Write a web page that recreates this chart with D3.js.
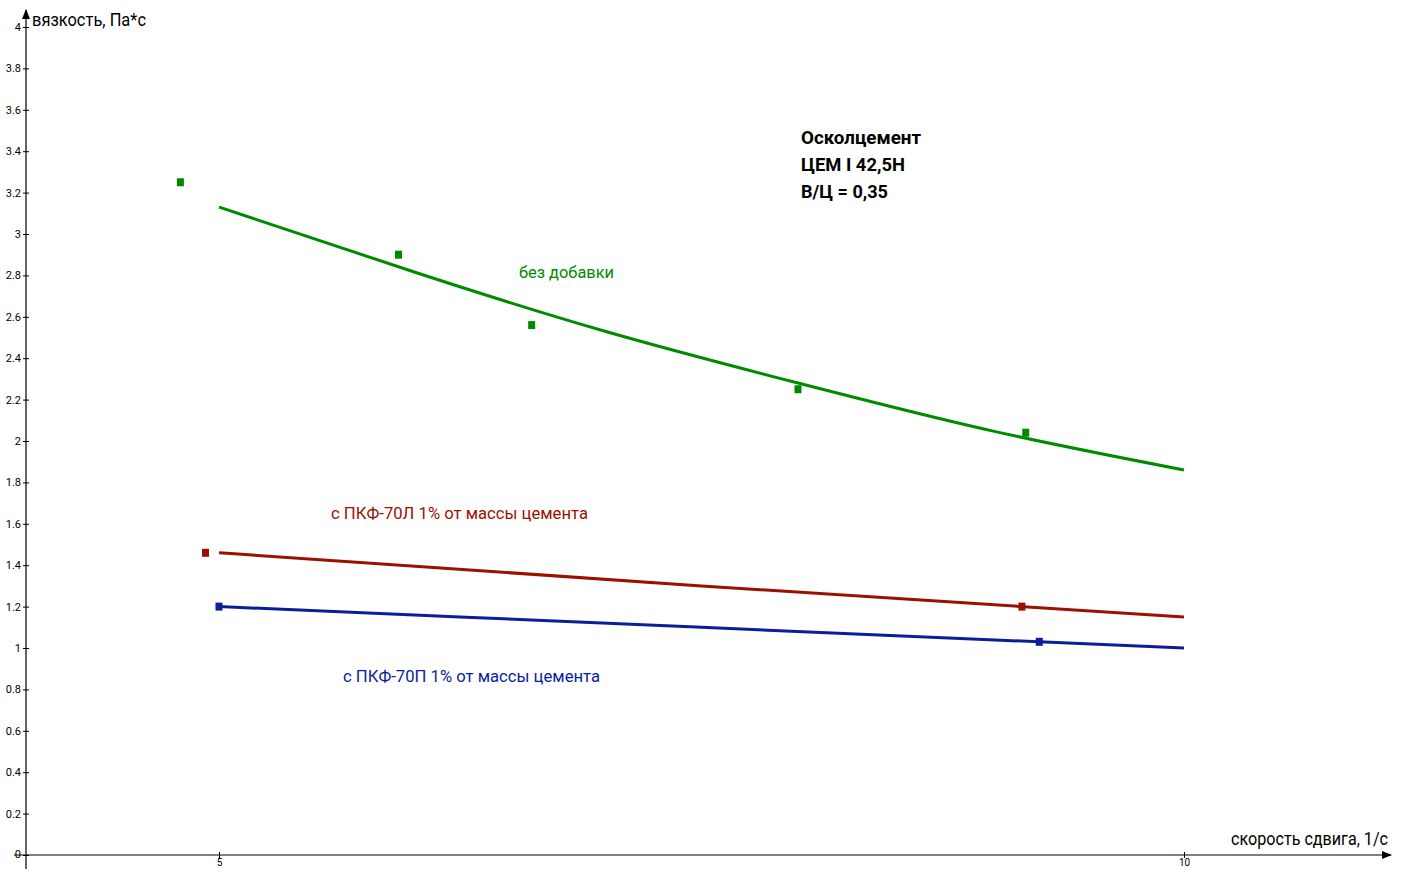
<!DOCTYPE html>
<html>
<head>
<meta charset="utf-8">
<script src="https://cdn.jsdelivr.net/npm/d3@7"></script>
<style>
  body { margin: 0; background: #fff; }
  svg text { font-family: "Roboto", "Liberation Sans", sans-serif; }
</style>
</head>
<body>
<svg id="chart" width="1405" height="869"></svg>
<script>
// measured points
var greenX = [4.80, 5.93, 6.62, 8.00, 9.18];
var greenY = [3.25, 2.90, 2.56, 2.25, 2.04];
var redX = [4.93, 9.16];
var redY = [1.46, 1.20];
var blueX = [5.00, 9.25];
var blueY = [1.20, 1.03];

// trend lines
var greenTrendX = [5, 6, 7, 8, 9, 10];
var greenTrendY = [3.13, 2.82, 2.53, 2.28, 2.05, 1.86];
var redTrendX = [5, 7.5, 10];
var redTrendY = [1.46, 1.30, 1.15];
var blueTrendX = [5, 7.5, 10];
var blueTrendY = [1.20, 1.10, 1.00];

var yTicks = d3.range(0, 21).map(i => i / 5);
var xTicks = [5, 10];

var colors = { green: "#008a00", red: "#9b1000", blue: "#0a1e9c" };

var svg = d3.select("#chart");

var x = d3.scaleLinear().domain([5, 10]).range([219, 1184]);
var y = d3.scaleLinear().domain([0, 4]).range([855, 27]);
var x0 = x(4); // y-axis position

// arrow marker
svg.append("defs").append("marker")
    .attr("id", "arrow")
    .attr("viewBox", "0 0 10 10")
    .attr("refX", 9).attr("refY", 5)
    .attr("markerWidth", 10).attr("markerHeight", 10)
    .attr("markerUnits", "userSpaceOnUse")
    .attr("orient", "auto")
    .append("path")
    .attr("d", "M0,1L10,5L0,9Z")
    .attr("fill", "#000");

// axes lines
svg.append("line")
    .attr("x1", x0).attr("y1", 869).attr("x2", x0).attr("y2", 10)
    .attr("stroke", "#000").attr("stroke-width", 1.2)
    .attr("marker-end", "url(#arrow)");

svg.append("line")
    .attr("x1", 14).attr("y1", y(0)).attr("x2", 1391).attr("y2", y(0))
    .attr("stroke", "#000").attr("stroke-width", 1.2)
    .attr("marker-end", "url(#arrow)");

// y axis ticks
var yAxis = svg.append("g")
    .attr("transform", "translate(" + x0 + ",0)")
    .call(d3.axisLeft(y).tickValues(yTicks).tickSize(3).tickPadding(2)
        .tickFormat(d => d3.format("~g")(+d.toFixed(1))));
yAxis.select(".domain").remove();
yAxis.selectAll(".tick line").attr("x1", -3).attr("x2", 3).attr("stroke", "#000");
yAxis.selectAll(".tick text").style("font-size", "11px").attr("fill", "#000");
yAxis.selectAll(".tick").filter(d => d === 0).select("text").attr("dy", "0.2em");

// x axis ticks
var xAxis = svg.append("g")
    .attr("transform", "translate(0," + y(0) + ")")
    .call(d3.axisBottom(x).tickValues(xTicks).tickSize(3).tickPadding(1)
        .tickFormat(d3.format("~g")));
xAxis.select(".domain").remove();
xAxis.selectAll(".tick line").attr("y1", -3).attr("y2", 3).attr("stroke", "#000");
xAxis.selectAll(".tick text").style("font-size", "10px").attr("fill", "#000");

// texts squeezed to the reference widths
function label(tx, ty, str, size, width, color, bold) {
    return svg.append("text")
        .attr("x", tx).attr("y", ty)
        .attr("textLength", width)
        .attr("lengthAdjust", "spacingAndGlyphs")
        .style("font-size", size + "px")
        .style("font-weight", bold ? "bold" : "normal")
        .attr("fill", color || "#000")
        .text(str);
}

// axis titles
label(32, 26, "вязкость, Па*с", 18, 114);
label(1231, 845, "скорость сдвига, 1/с", 18, 157);

// trend lines
var line = d3.line()
    .x(d => x(d[0]))
    .y(d => y(d[1]))
    .curve(d3.curveNatural);

var series = [
    { color: colors.green, tx: greenTrendX, ty: greenTrendY, px: greenX, py: greenY },
    { color: colors.red, tx: redTrendX, ty: redTrendY, px: redX, py: redY },
    { color: colors.blue, tx: blueTrendX, ty: blueTrendY, px: blueX, py: blueY }
];

series.forEach(function(s) {
    svg.append("path")
        .datum(s.tx.map((v, i) => [v, s.ty[i]]))
        .attr("d", line)
        .attr("fill", "none")
        .attr("stroke", s.color)
        .attr("stroke-width", 3);

    svg.selectAll(null)
        .data(s.px.map((v, i) => [v, s.py[i]]))
        .enter().append("rect")
        .attr("x", d => x(d[0]) - 3.5)
        .attr("y", d => y(d[1]) - 4)
        .attr("width", 7)
        .attr("height", 8)
        .attr("fill", s.color);
});

// series labels
label(519, 278, "без добавки", 17, 95, colors.green);
label(331, 519, "с ПКФ-70Л 1% от массы цемента", 17, 257, colors.red);
label(343, 682, "с ПКФ-70П 1% от массы цемента", 17, 257, colors.blue);

var note = ["Осколцемент", "ЦЕМ I 42,5Н", "В/Ц = 0,35"];
var noteWidths = [120, 104, 87];
note.forEach(function(d, i) {
    label(801, 144 + i * 27, d, 19, noteWidths[i], "#000", true);
});
</script>
</body>
</html>
